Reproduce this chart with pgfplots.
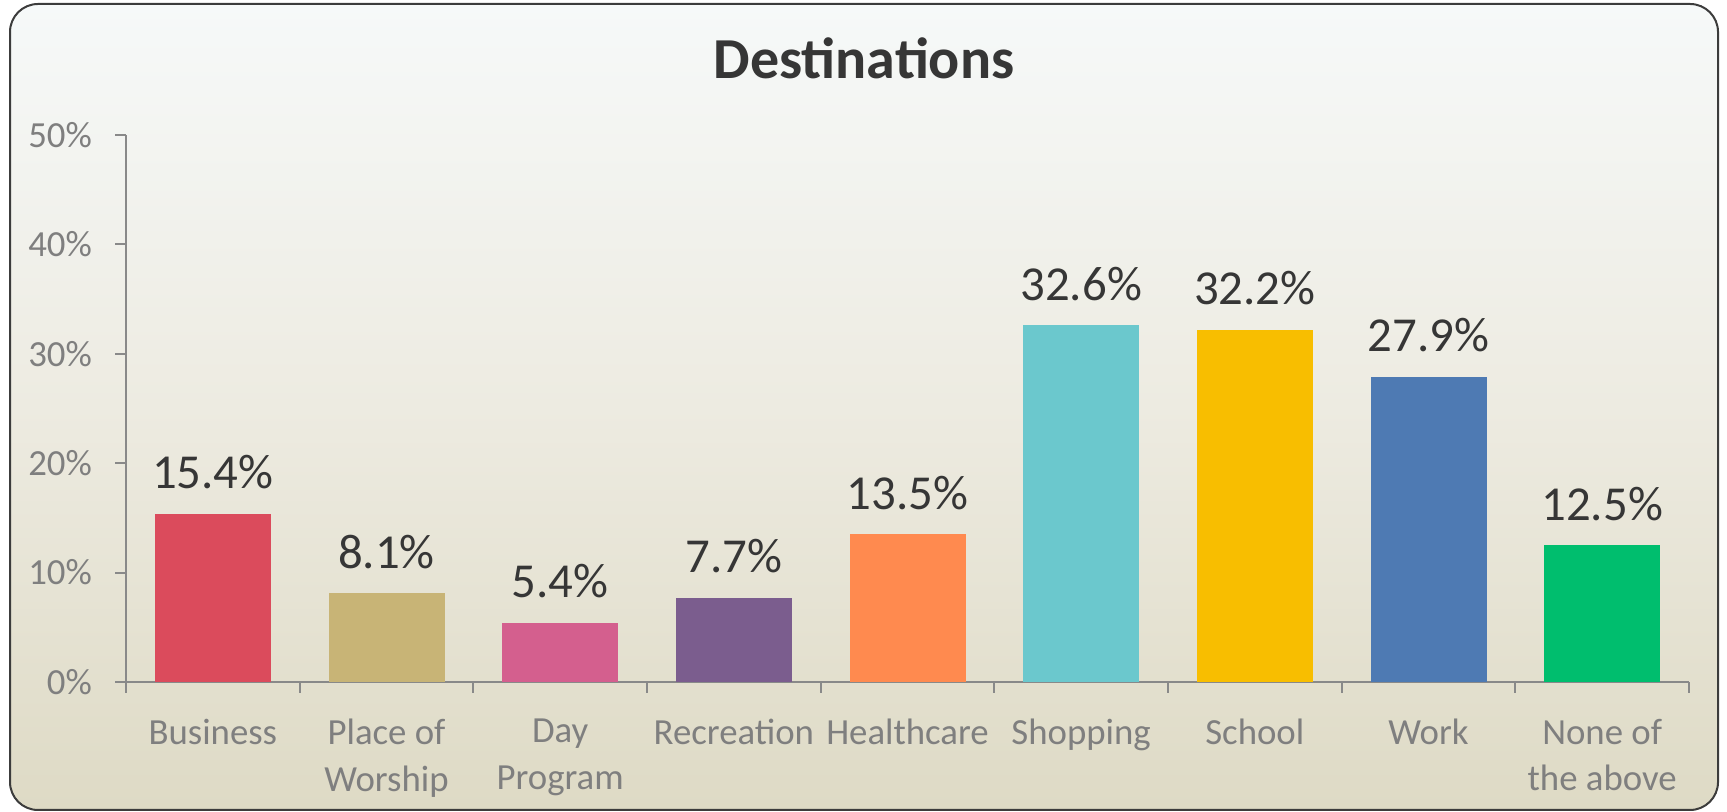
\documentclass[border=0pt]{standalone}
\usepackage{fontspec}
\setmainfont{Carlito}
\usepackage{pgfplots}
\pgfplotsset{compat=1.18}

\definecolor{bgtop}{HTML}{F6F9F9}
\definecolor{bgmid}{HTML}{EDEBE1}
\definecolor{bgbot}{HTML}{DEDAC5}
\definecolor{framecol}{HTML}{3C3C3C}
\definecolor{axisgray}{HTML}{898989}
\definecolor{labgray}{HTML}{7F7F7F}
\definecolor{valcol}{HTML}{363636}
\definecolor{cBusiness}{HTML}{DB4B5C}
\definecolor{cWorship}{HTML}{C8B476}
\definecolor{cDay}{HTML}{D45F8E}
\definecolor{cRec}{HTML}{7B5D8E}
\definecolor{cHealth}{HTML}{FF8A4F}
\definecolor{cShop}{HTML}{6BC8CD}
\definecolor{cSchool}{HTML}{F8BE00}
\definecolor{cWork}{HTML}{4E7AB3}
\definecolor{cNone}{HTML}{00BE6E}

\begin{document}
\begin{tikzpicture}
\path[use as bounding box] (0pt,0pt) rectangle (863.5pt,406pt);
\shade[top color=bgtop, bottom color=bgbot, middle color=bgmid, rounded corners=14pt]
  (5pt,1pt) rectangle (859pt,404pt);
\draw[framecol, line width=1pt, rounded corners=14pt] (5pt,1pt) rectangle (859pt,404pt);
\node[font=\bfseries\fontsize{29}{35}\selectfont, text=valcol, anchor=base] at (432pt,366.5pt) {Destinations};

\begin{axis}[
    at={(63pt,65pt)}, anchor=south west,
    scale only axis,
    width=781.5pt, height=273.5pt,
    ybar, bar width=58pt, bar shift=0pt,
    xmin=-0.5, xmax=8.5,
    ymin=0, ymax=50,
    axis lines*=left,
    axis line style={draw=axisgray, line width=1pt, -},
    tick align=outside,
    major tick length=5.5pt,
    minor tick length=5.5pt,
    xtick={0,...,8},
    xticklabels={Business, {Place of\\Worship}, {Day\\Program}, Recreation,
                 Healthcare, Shopping, School, Work, {None of\\the above}},
    minor xtick={-0.5,0.5,...,8.5},
    major x tick style={draw=none},
    minor x tick style={draw=axisgray, line width=1pt},
    ytick={0,10,...,50},
    yticklabels={0\%,10\%,20\%,30\%,40\%,50\%},
    y tick style={draw=axisgray, line width=1pt},
    xticklabel style={align=center, text=labgray, yshift=-9.5pt,
                      font=\fontsize{18.4}{23.3}\selectfont},
    yticklabel style={text=labgray, xshift=-8pt, font=\fontsize{18.4}{22}\selectfont},
    nodes near coords={\pgfmathprintnumber[fixed,fixed zerofill,precision=1]{\pgfplotspointmeta}\%},
    nodes near coords style={anchor=base, yshift=12.5pt, text=valcol,
                             font=\fontsize{24.4}{29}\selectfont,
                             /pgf/number format/assume math mode=true},
    clip=false,
]
\addplot[fill=cBusiness, draw=none] coordinates {(0,15.4)};
\addplot[fill=cWorship, draw=none] coordinates {(1,8.1)};
\addplot[fill=cDay, draw=none] coordinates {(2,5.4)};
\addplot[fill=cRec, draw=none] coordinates {(3,7.7)};
\addplot[fill=cHealth, draw=none] coordinates {(4,13.5)};
\addplot[fill=cShop, draw=none] coordinates {(5,32.6)};
\addplot[fill=cSchool, draw=none] coordinates {(6,32.2)};
\addplot[fill=cWork, draw=none] coordinates {(7,27.9)};
\addplot[fill=cNone, draw=none] coordinates {(8,12.5)};
\end{axis}
\end{tikzpicture}
\end{document}
